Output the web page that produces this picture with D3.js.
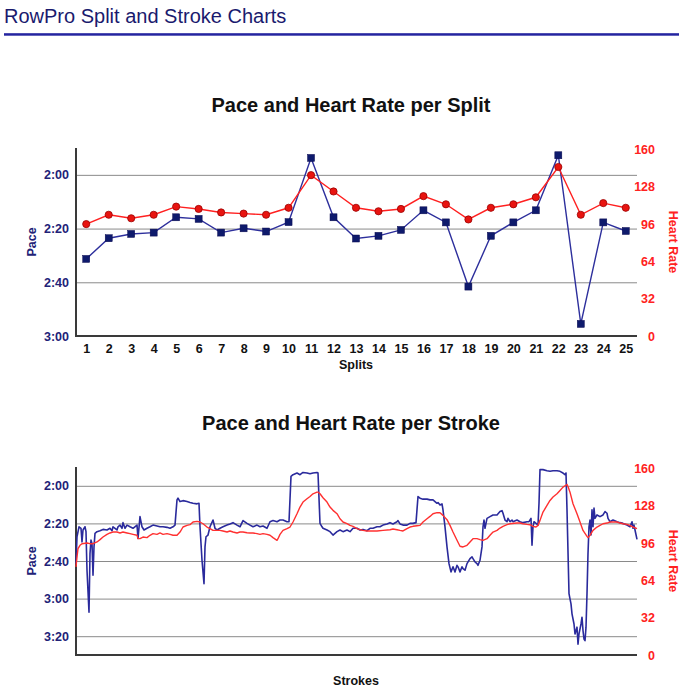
<!DOCTYPE html>
<html><head><meta charset="utf-8">
<script src="https://cdn.jsdelivr.net/npm/d3@7"></script>
<style>
body{margin:0;background:#fff}
text{font-family:"Liberation Sans",Arial,Helvetica,sans-serif}
</style>
</head><body>
<svg id="c" width="700" height="700"></svg>
<script>
const pageTitle = "RowPro Split and Stroke Charts";
const splitTitle = "Pace and Heart Rate per Split";
const strokeTitle = "Pace and Heart Rate per Stroke";

const splitLabels = ["1","2","3","4","5","6","7","8","9","10","11","12","13","14","15","16","17","18","19","20","21","22","23","24","25"];
const splitPace = [151.3,143.6,142.0,141.5,135.8,136.4,141.5,139.9,141.1,137.6,113.7,135.8,143.7,142.7,140.5,133.2,137.7,161.6,142.7,137.7,133.2,112.7,175.5,137.7,140.9];
const splitHR = [96,104,101,104,111,109,106,105,104,110,138,124,110,107,109,120,113,100,110,113,119,145,104,114,110];

const splitPaceTicks = ["2:00","2:20","2:40","3:00"];
const strokePaceTicks = ["2:00","2:20","2:40","3:00","3:20"];
const hrTicks = [0,32,64,96,128,160];

const strokePaceX = [0,1,3,5,6,7,9,10,11,13,14,15,16,17,18,19,21,24,27,31,34,36,37,41,42,44,46,47,49,51,54,57,61,62,64,66,68,71,74,77,81,84,87,91,94,97,99,101,102,104,107,111,114,117,121,123,124,126,128,129,130,132,134,137,139,141,144,147,151,154,157,161,164,167,171,174,177,181,184,187,191,194,197,201,204,207,211,213,215,217,221,224,227,231,234,237,241,242,244,246,247,251,254,257,261,264,267,271,274,277,281,284,287,291,294,297,301,304,307,311,314,317,321,322,324,327,331,334,337,340,342,344,347,351,354,357,361,362,364,366,367,369,371,373,375,377,379,381,382,384,386,387,389,391,394,396,397,399,401,402,404,406,407,408,409,411,414,417,421,424,426,427,429,431,432,434,436,437,441,444,447,451,453,455,456,457,458,460,462,463,464,467,471,474,477,481,484,487,489,490,491,493,494,495,496,498,499,501,502,503,505,506,507,508,509,510,511,512,513,514,515,516,517,518,519,521,524,527,529,531,532,534,537,541,544,547,551,554,556,557,558,559,561];
const strokePaceY = [161.4,147.1,141.8,142.6,149.8,143.5,141.8,144.4,164.9,187.2,156.0,148.9,150.7,167.6,152.5,145.3,144.4,143.9,143.2,143.5,142.6,143.9,141.8,143.5,141.8,140.9,142.6,139.6,142.6,140.9,141.8,142.6,140.9,148.0,136.4,141.8,143.5,142.6,141.8,140.9,141.4,141.8,141.8,142.1,142.6,141.8,140.9,127.5,126.6,128.4,127.9,128.4,128.9,129.3,129.6,129.3,141.8,159.6,172.1,152.5,147.1,146.2,141.8,138.2,142.6,143.5,142.6,141.8,140.9,140.3,139.6,140.9,141.8,138.5,140.0,140.9,141.8,140.9,141.8,141.4,142.6,139.1,138.5,139.1,138.2,138.2,139.1,139.1,115.0,114.1,113.2,114.1,112.9,113.2,113.6,113.2,112.9,113.2,140.0,141.8,142.6,143.5,144.4,146.2,144.4,143.5,144.4,143.5,144.4,142.6,142.6,143.5,143.2,143.9,142.6,142.6,141.8,141.8,140.9,140.3,139.6,140.3,139.1,138.5,140.3,140.9,140.9,140.0,140.0,139.6,125.7,126.6,127.1,127.1,127.5,127.5,129.3,128.9,130.2,129.6,132.8,141.8,152.5,161.4,165.8,163.1,165.8,162.3,163.1,165.8,163.1,164.0,164.9,161.4,158.7,157.8,158.7,160.5,161.4,162.3,159.6,152.5,141.8,138.2,142.6,137.3,136.4,135.5,135.5,133.7,133.2,134.6,138.2,139.1,137.3,139.1,138.2,139.1,138.2,139.1,139.6,139.1,139.1,137.3,151.6,141.8,139.1,140.0,140.9,129.3,111.4,111.4,112.0,112.3,112.0,112.0,112.3,113.2,114.1,113.2,132.8,177.4,180.1,182.8,188.1,193.5,198.8,195.2,204.2,198.8,193.5,189.9,197.0,201.5,202.4,195.2,177.4,156.0,141.8,138.2,146.2,132.8,141.8,131.9,137.3,135.5,136.4,135.5,133.7,134.6,137.3,139.1,138.2,139.1,139.6,140.0,140.9,141.8,139.1,142.6,140.9,143.5,148.5];

const strokeHrX = [0,1,2,4,6,11,14,17,21,24,27,31,34,37,41,44,47,51,54,57,61,62,64,67,71,74,77,81,84,87,91,94,97,101,104,107,111,114,117,121,124,127,131,134,137,141,144,147,151,154,157,161,164,167,171,174,177,181,184,187,191,194,197,201,202,204,207,211,214,217,221,224,227,231,234,237,241,242,244,247,251,254,257,261,264,267,271,274,277,281,284,287,291,294,301,307,314,317,321,324,327,331,334,337,341,344,347,351,354,357,361,364,367,371,374,377,381,384,387,391,394,397,401,404,407,411,414,417,421,424,427,431,434,441,444,447,451,454,457,460,462,464,467,471,474,477,481,484,487,491,492,494,497,501,504,507,511,512,514,517,521,524,527,531,534,541,544,547,551,554,557,561];
const strokeHrY = [75.6,84.1,91.3,94.1,95.5,96.1,95.5,95.5,97.0,99.0,101.2,103.5,104.7,105.5,105.5,104.7,105.5,104.7,104.1,103.5,102.7,99.8,99.8,101.2,100.7,102.7,104.1,103.5,104.7,103.5,104.1,103.5,102.7,102.7,105.5,109.8,111.2,111.8,114.1,114.6,114.1,112.6,109.8,108.4,106.9,106.9,106.9,106.4,105.5,106.4,105.5,104.7,105.5,105.5,104.9,104.7,104.7,104.1,103.5,104.1,103.5,102.7,100.7,98.4,99.8,103.5,106.9,108.4,109.8,114.1,121.2,126.9,131.2,134.0,136.0,138.3,139.7,139.7,138.3,134.9,131.2,126.9,124.1,121.2,116.9,114.1,112.7,111.2,110.4,108.4,107.5,106.9,106.4,106.4,106.4,106.9,107.5,108.1,107.5,106.9,106.4,108.4,109.8,110.4,110.9,111.2,114.1,116.9,118.9,121.2,122.1,122.1,119.8,116.1,111.2,105.5,98.4,93.3,92.7,94.1,97.0,99.8,99.8,99.0,98.4,99.8,102.7,105.5,106.9,108.9,110.4,111.8,112.6,113.2,113.2,112.6,112.1,111.8,110.4,109.8,111.2,115.5,122.6,128.3,132.6,135.5,138.3,141.2,144.0,146.3,144.6,139.7,129.8,121.2,114.1,106.9,101.8,100.7,102.7,106.9,109.8,111.2,112.6,113.2,114.1,114.1,113.2,112.6,112.1,111.2,109.8,108.4];

const toSec = s => { const [m, ss] = s.split(":").map(Number); return m * 60 + ss; };
const fmt = v => Math.floor(v / 60) + ":" + String(Math.round(v % 60)).padStart(2, "0");

const NAVY = "#222277", RED = "#ff2222";
const svg = d3.select("#c");
svg.append("rect").attr("width", 700).attr("height", 700).attr("fill", "#fff");

// Page header
svg.append("text").attr("x", 4).attr("y", 22.7).attr("font-size", 20).attr("fill", "#1a1a6e").text(pageTitle);
svg.append("rect").attr("x", 4).attr("y", 33.2).attr("width", 675).attr("height", 2.5).attr("fill", "#2424a0");

const L = 76, R = 637;

function panel(opts) {
  const { top, bottom, paceDomain, paceTicks, title, titleY, xLabel, xLabelY } = opts;
  const g = svg.append("g");
  const yP = d3.scaleLinear().domain(paceDomain).range([top, bottom]);
  const yH = d3.scaleLinear().domain([0, 160]).range([bottom, top + 1.5]);
  const tickSecs = paceTicks.map(toSec);

  g.append("text").attr("x", 351).attr("y", titleY).attr("text-anchor", "middle")
    .attr("font-size", 20).attr("font-weight", "bold").attr("fill", "#111").text(title);

  // left pace axis with gridlines
  const ax = g.append("g").attr("transform", `translate(${L},0)`)
    .call(d3.axisLeft(yP).tickValues(tickSecs).tickFormat(fmt).tickSize(-(R - L)).tickPadding(7));
  ax.select(".domain").remove();
  ax.selectAll(".tick line").attr("stroke", "#8a8a8a").attr("stroke-width", 1);
  ax.selectAll(".tick text").attr("font-size", 12.5).attr("font-weight", "bold").attr("fill", NAVY)
    .attr("font-family", "Liberation Sans, Arial, sans-serif");

  // right HR axis
  const ay = g.append("g").attr("transform", `translate(${R},0)`)
    .call(d3.axisRight(yH).tickValues(hrTicks).tickSize(0));
  ay.select(".domain").remove();
  ay.selectAll(".tick text").attr("x", 18).attr("text-anchor", "end").attr("font-size", 12.5)
    .attr("font-weight", "bold").attr("fill", RED).attr("font-family", "Liberation Sans, Arial, sans-serif");

  // axis lines
  g.append("line").attr("x1", L).attr("x2", L).attr("y1", top).attr("y2", bottom + 1)
    .attr("stroke", "#3a3a3a").attr("stroke-width", 2);
  g.append("line").attr("x1", L).attr("x2", R).attr("y1", bottom).attr("y2", bottom)
    .attr("stroke", "#3a3a3a").attr("stroke-width", 2);

  // axis titles
  const cy = (top + bottom) / 2;
  g.append("text").attr("transform", `translate(36,${cy}) rotate(-90)`).attr("text-anchor", "middle")
    .attr("font-size", 12.5).attr("font-weight", "bold").attr("fill", NAVY).text("Pace");
  g.append("text").attr("transform", `translate(669,${cy}) rotate(90)`).attr("text-anchor", "middle")
    .attr("font-size", 12.5).attr("font-weight", "bold").attr("fill", RED).text("Heart Rate");
  g.append("text").attr("x", 356).attr("y", xLabelY).attr("text-anchor", "middle")
    .attr("font-size", 12.5).attr("font-weight", "bold").attr("fill", "#111").text(xLabel);

  return { g, yP, yH };
}

// ---- Split chart ----
const p1 = panel({ top: 148, bottom: 336, paceDomain: [110, 180], paceTicks: splitPaceTicks,
  title: splitTitle, titleY: 111.5, xLabel: "Splits", xLabelY: 368.5 });
const xS = d3.scalePoint().domain(splitLabels).range([75, 637]).padding(0.5);
const axS = p1.g.append("g").attr("transform", "translate(0,336)")
  .call(d3.axisBottom(xS).tickSize(0).tickPadding(8.5));
axS.select(".domain").remove();
axS.selectAll(".tick text").attr("font-size", 12.5).attr("font-weight", "bold").attr("fill", "#111")
  .attr("font-family", "Liberation Sans, Arial, sans-serif");

const splitPaceData = splitLabels.map((s, i) => [s, splitPace[i]]);
const splitHRData = splitLabels.map((s, i) => [s, splitHR[i]]);
p1.g.append("path").datum(splitPaceData).attr("fill", "none").attr("stroke", "#2d2f9c").attr("stroke-width", 1.4)
  .attr("d", d3.line().x(d => xS(d[0])).y(d => p1.yP(d[1])));
p1.g.append("path").datum(splitHRData).attr("fill", "none").attr("stroke", "#ff2020").attr("stroke-width", 1.4)
  .attr("d", d3.line().x(d => xS(d[0])).y(d => p1.yH(d[1])));
p1.g.selectAll("rect.pm").data(splitPaceData).join("rect").attr("class", "pm")
  .attr("x", d => xS(d[0]) - 3.5).attr("y", d => p1.yP(d[1]) - 3.5).attr("width", 7).attr("height", 7)
  .attr("fill", "#0e1a6c").attr("stroke", "#0a0a50").attr("stroke-width", 0.5);
p1.g.selectAll("circle.hm").data(splitHRData).join("circle").attr("class", "hm")
  .attr("cx", d => xS(d[0])).attr("cy", d => p1.yH(d[1])).attr("r", 3.6)
  .attr("fill", "#e81410").attr("stroke", "#9a0000").attr("stroke-width", 0.8);

// ---- Stroke chart ----
const p2 = panel({ top: 467, bottom: 655, paceDomain: [110, 210], paceTicks: strokePaceTicks,
  title: strokeTitle, titleY: 430, xLabel: "Strokes", xLabelY: 685 });
const xK = d3.scaleLinear().domain([0, 561]).range([L, R]);
const strokePaceData = strokePaceX.map((s, i) => [s, strokePaceY[i]]);
const strokeHrData = strokeHrX.map((s, i) => [s, strokeHrY[i]]);
p2.g.append("path").datum(strokePaceData).attr("fill", "none").attr("stroke", "#2a2a9c").attr("stroke-width", 1.6)
  .attr("stroke-linejoin", "round").attr("d", d3.line().x(d => xK(d[0])).y(d => p2.yP(d[1])));
p2.g.append("path").datum(strokeHrData).attr("fill", "none").attr("stroke", "#ff3030").attr("stroke-width", 1.4)
  .attr("stroke-linejoin", "round").attr("d", d3.line().x(d => xK(d[0])).y(d => p2.yH(d[1])));
</script>
</body></html>
